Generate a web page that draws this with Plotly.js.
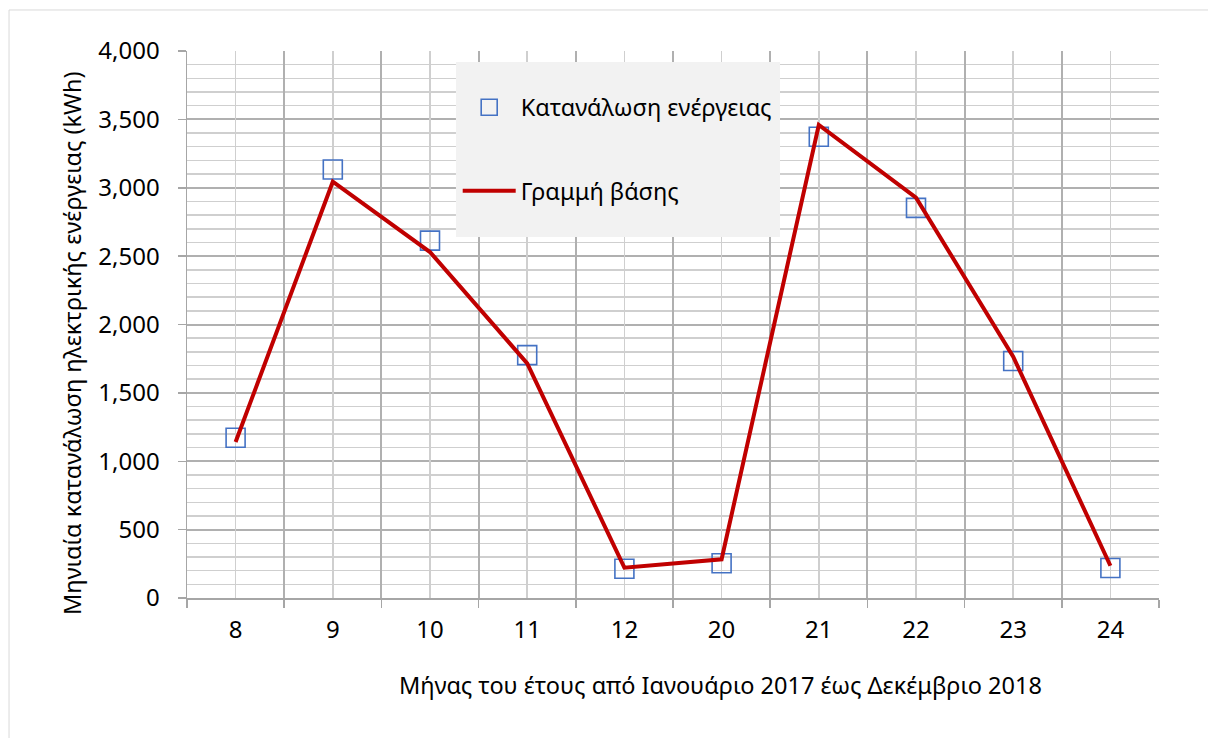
<!DOCTYPE html>
<html>
<head>
<meta charset="utf-8">
<script src="https://cdn.plot.ly/plotly-3.0.1.min.js"></script>
<style>html,body{margin:0;padding:0;background:#fff;}#chart{width:1208px;height:738px;}</style>
</head>
<body>
<div id="chart"></div>
<script>
// Data
const months = ['8', '9', '10', '11', '12', '20', '21', '22', '23', '24'];
const consumption = [1172, 3133, 2613, 1776, 214, 254, 3373, 2853, 1733, 219];
const baseline = [1141, 3044, 2530, 1716, 222, 283, 3459, 2927, 1765, 236];
const seriesNames = ['Κατανάλωση ενέργειας', 'Γραμμή βάσης'];
const xTitle = 'Μήνας του έτους από Ιανουάριο 2017 έως Δεκέμβριο 2018';
const yTitle = 'Μηνιαία κατανάλωση ηλεκτρικής ενέργειας (kWh)';

const FONT = '"Noto Sans", "Open Sans", sans-serif';
const majorGrid = '#b0b0b0';
const minorGrid = '#cfcfcf';
const axisGray = '#a6a6a6';

const traces = [
  {
    type: 'scatter', mode: 'markers', name: seriesNames[0],
    x: months, y: consumption, xaxis: 'x', yaxis: 'y',
    legendgroup: 'a',
    marker: {symbol: 'square-open', size: 19, color: '#4472C4', line: {width: 1.6, color: '#4472C4'}}
  },
  {
    type: 'scatter', mode: 'lines', name: seriesNames[1],
    x: months, y: baseline, xaxis: 'x2', yaxis: 'y',
    legendgroup: 'b',
    line: {color: '#C00000', width: 4}
  }
];

const layout = {
  width: 1208, height: 738,
  margin: {l: 187, r: 49, t: 51, b: 140, pad: 0},
  paper_bgcolor: '#ffffff', plot_bgcolor: '#ffffff',
  font: {family: FONT, size: 23.5, color: '#000000'},
  showlegend: true,
  legend: {
    x: 0.2785, y: 0.937, xanchor: 'left', yanchor: 'top',
    bgcolor: 'rgba(0,0,0,0)', borderwidth: 0,
    traceorder: 'grouped', tracegroupgap: 50,
    itemwidth: 53,
    font: {family: FONT, size: 23.5, color: '#000000'}
  },
  xaxis: {
    type: 'category', range: [-0.5, 9.5],
    categoryorder: 'array', categoryarray: months,
    tickson: 'boundaries', ticks: 'outside', ticklen: 8, tickcolor: axisGray, tickwidth: 1.5,
    showline: true, linecolor: axisGray, linewidth: 1.5,
    showgrid: true, gridcolor: majorGrid, gridwidth: 2,
    zeroline: false, fixedrange: true,
    tickfont: {family: FONT, size: 24, color: '#000000'},
    ticklabelstandoff: 10
  },
  xaxis2: {
    overlaying: 'x', anchor: 'y', type: 'category', range: [-0.5, 9.5],
    categoryorder: 'array', categoryarray: months,
    showgrid: true, gridcolor: minorGrid, gridwidth: 1.5,
    showticklabels: false, ticks: '', zeroline: false, showline: false, fixedrange: true
  },
  yaxis: {
    range: [0, 4000], dtick: 500, tick0: 0, tickformat: ',d',
    ticks: 'outside', ticklen: 8, tickcolor: axisGray, tickwidth: 1.5,
    showline: true, linecolor: axisGray, linewidth: 1.5,
    showgrid: true, gridcolor: majorGrid, gridwidth: 2,
    minor: {dtick: 100, tick0: 0, showgrid: true, gridcolor: minorGrid, gridwidth: 1.5, ticks: ''},
    zeroline: false, fixedrange: true,
    tickfont: {family: FONT, size: 24, color: '#000000'},
    ticklabelstandoff: 13
  },
  shapes: [
    {type: 'rect', xref: 'paper', yref: 'paper', x0: -0.1831, x1: 1.2, y0: -0.4, y1: 1.075,
     line: {color: '#d9d9d9', width: 1}, fillcolor: 'rgba(0,0,0,0)', layer: 'below'},
    {type: 'rect', xref: 'paper', yref: 'paper', x0: 0.2767, x1: 0.6101, y0: 0.660, y1: 0.9799,
     line: {width: 0}, fillcolor: '#f2f2f2', layer: 'above'}
  ],
  annotations: [
    {text: xTitle, xref: 'paper', yref: 'paper', x: 0.5484, y: -0.159, xanchor: 'center', yanchor: 'middle',
     showarrow: false, font: {family: FONT, size: 23.5, color: '#000000'}},
    {text: yTitle, xref: 'paper', yref: 'paper', x: -0.1183, y: 0.4662, xanchor: 'center', yanchor: 'middle',
     textangle: -90, showarrow: false, font: {family: FONT, size: 23.5, color: '#000000'}}
  ]
};

Plotly.newPlot('chart', traces, layout, {displayModeBar: false, staticPlot: true});
</script>
</body>
</html>
